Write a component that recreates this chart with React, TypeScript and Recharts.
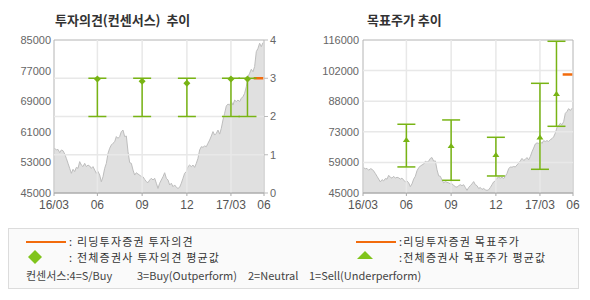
import React from "react"
import {
  Area,
  ComposedChart,
  ErrorBar,
  ReferenceArea,
  ReferenceLine,
  Scatter,
  XAxis,
  YAxis,
} from "recharts"

const PRICE = [
  56700, 56250, 56400, 55550, 56250, 56050, 55200, 54050, 52750, 51450,
  50150, 51200, 50600, 51700, 51450, 53200, 52300, 51900, 52750, 51900,
  52300, 52050, 51450, 51900, 51000, 50150, 50600, 49700, 47950, 49250,
  51450, 52750, 55350, 56700, 57550, 58000, 58400, 59750, 59300, 59750,
  61050, 61450, 59750, 59900, 55800, 52950, 52750, 51000, 49700, 50300,
  49950, 49700, 49250, 49250, 48550, 47950, 47700, 48400, 48850, 48400,
  48850, 47550, 46200, 47550, 48400, 49250, 50300, 48850, 48400, 47100,
  47550, 46650, 47100, 46500, 46200, 46500, 47550, 48850, 50150, 50600,
  51900, 52300, 51900, 52300, 51700, 52750, 54050, 56250, 57100, 56950,
  57300, 57100, 58000, 58850, 59900, 61050, 60150, 60600, 61450, 60400,
  61900, 64100, 65850, 67750, 68250, 68000, 68900, 68000, 69300, 68900,
  69300, 68900, 69750, 70200, 71050, 72800, 75400, 76300, 77350, 76700,
  78050, 81950, 82800, 84150, 83250, 84300,
]
const PRICE_FIRST_DAY = 1
const PRICE_STEP_DAYS = 2.42 // trading days between samples

const X_TICKS = [0, 63, 128, 193, 257, 305]
const X_LABELS = ["16/03", "06", "09", "12", "17/03", "06"]

// consensus snapshots (trading-day index)
const REPORT_DAYS = [63, 128, 193, 257, 281]
const OPINION_AVG = [2.98, 2.92, 2.87, 2.98, 2.98]
const OPINION_LOW = [2, 2, 2, 2, 2]
const OPINION_HIGH = [3, 3, 3, 3, 3]
const TARGET_AVG = [69600, 66800, 62600, 70700, 90900]
const TARGET_LOW = [57100, 50900, 52900, 56000, 75950]
const TARGET_HIGH = [76900, 78900, 70850, 95900, 115400]

// 리딩투자증권
const LEADING_FROM = 290
const LEADING_TO = 304
const LEADING_OPINION = 3
const LEADING_TARGET = 100000

const PRICE_TICKS = [45000, 53000, 61000, 69000, 77000, 85000]
const OPINION_TICKS = [0, 1, 2, 3, 4]
const TARGET_TICKS = [45000, 59200, 73400, 87600, 101800, 116000]

const GREEN = "#78b414"
const ORANGE = "#f26b0c"
const FRAME = "#b4b4b4"
const GRID = "#e8e8e8"
const AXIS_FONT = "'Liberation Sans', Arial, sans-serif"
const KR_FONT = "'Noto Sans CJK KR', sans-serif"

const priceData = PRICE.map((price, i) => ({
  day: PRICE_FIRST_DAY + i * PRICE_STEP_DAYS,
  price,
}))

const opinionData = REPORT_DAYS.map((day, i) => ({
  day,
  avg: OPINION_AVG[i],
  err: [OPINION_AVG[i] - OPINION_LOW[i], OPINION_HIGH[i] - OPINION_AVG[i]],
}))

const targetData = REPORT_DAYS.map((day, i) => ({
  day,
  avg: TARGET_AVG[i],
  err: [TARGET_AVG[i] - TARGET_LOW[i], TARGET_HIGH[i] - TARGET_AVG[i]],
}))

const tick = { fontSize: 11, fill: "#666", fontFamily: AXIS_FONT }

const Diamond = (p: any) => (
  <path
    d={`M${p.cx},${p.cy - 3.5}L${p.cx + 3.5},${p.cy}L${p.cx},${p.cy + 3.5}L${p.cx - 3.5},${p.cy}Z`}
    fill={GREEN}
  />
)

const Triangle = (p: any) => (
  <path
    d={`M${p.cx},${p.cy - 3}L${p.cx + 3.5},${p.cy + 2}L${p.cx - 3.5},${p.cy + 2}Z`}
    fill={GREEN}
  />
)

const xAxis = (
  <XAxis
    dataKey="day"
    type="number"
    domain={[0, 305]}
    ticks={X_TICKS}
    interval={0}
    allowDataOverflow
    tickFormatter={(_v: number, i: number) => X_LABELS[i]}
    tick={{ ...tick, fill: "#555", fontSize: 12 }}
    tickSize={3}
    tickMargin={4}
    height={22}
    stroke="#aaa"
  />
)

function OpinionChart() {
  return (
    <ComposedChart
      width={300}
      height={215}
      data={priceData}
      margin={{ top: 40, right: 0, bottom: 0, left: 0 }}
    >
      {xAxis}
      <YAxis
        yAxisId="price"
        orientation="left"
        width={54}
        domain={[45000, 85000]}
        ticks={PRICE_TICKS}
        interval={0}
        tick={tick}
        tickLine={false}
        tickSize={0}
        tickMargin={3}
        axisLine={false}
      />
      <YAxis
        yAxisId="op"
        orientation="right"
        width={36}
        domain={[0, 4]}
        ticks={OPINION_TICKS}
        interval={0}
        tick={tick}
        tickSize={4}
        tickMargin={2}
        stroke="#bbb"
        axisLine={false}
      />
      <Area
        yAxisId="price"
        dataKey="price"
        type="linear"
        stroke="#bdbdbd"
        strokeWidth={1}
        fill="#e0e0e0"
        fillOpacity={1}
        dot={false}
        isAnimationActive={false}
      />
      {OPINION_TICKS.slice(1, -1).map((v) => (
        <ReferenceLine key={`h${v}`} yAxisId="op" y={v} stroke={GRID} strokeWidth={1.5} />
      ))}
      {X_TICKS.slice(1, -1).map((d) => (
        <ReferenceLine key={`v${d}`} yAxisId="op" x={d} stroke={GRID} strokeWidth={1.5} />
      ))}
      <ReferenceArea
        yAxisId="op"
        x1={0}
        x2={305}
        y1={0}
        y2={4}
        fill="none"
        stroke={FRAME}
        ifOverflow="visible"
      />
      <ReferenceLine
        yAxisId="op"
        segment={[
          { x: LEADING_FROM, y: LEADING_OPINION },
          { x: LEADING_TO, y: LEADING_OPINION },
        ]}
        stroke={ORANGE}
        strokeWidth={2.5}
      />
      <Scatter
        yAxisId="op"
        data={opinionData}
        dataKey="avg"
        shape={Diamond}
        isAnimationActive={false}
      >
        <ErrorBar dataKey="err" direction="y" width={9} stroke={GREEN} strokeWidth={1.5} />
      </Scatter>
    </ComposedChart>
  )
}

function TargetChart() {
  return (
    <ComposedChart
      width={290}
      height={215}
      data={priceData}
      margin={{ top: 40, right: 17, bottom: 0, left: 0 }}
    >
      {xAxis}
      <YAxis
        yAxisId="price"
        orientation="left"
        width={63}
        domain={[45000, 116000]}
        ticks={TARGET_TICKS}
        interval={0}
        allowDataOverflow
        tickFormatter={(v: number) => String(Math.round(v / 1000) * 1000)}
        tick={tick}
        tickLine={false}
        tickSize={0}
        tickMargin={4}
        axisLine={false}
      />
      <Area
        yAxisId="price"
        dataKey="price"
        type="linear"
        stroke="#bdbdbd"
        strokeWidth={1}
        fill="#e0e0e0"
        fillOpacity={1}
        dot={false}
        isAnimationActive={false}
      />
      {TARGET_TICKS.slice(1, -1).map((v) => (
        <ReferenceLine key={`h${v}`} yAxisId="price" y={v} stroke={GRID} strokeWidth={1.5} />
      ))}
      {X_TICKS.slice(1, -1).map((d) => (
        <ReferenceLine key={`v${d}`} yAxisId="price" x={d} stroke={GRID} strokeWidth={1.5} />
      ))}
      <ReferenceArea
        yAxisId="price"
        x1={0}
        x2={305}
        y1={45000}
        y2={116000}
        fill="none"
        stroke={FRAME}
        ifOverflow="visible"
      />
      <ReferenceLine
        yAxisId="price"
        segment={[
          { x: LEADING_FROM, y: LEADING_TARGET },
          { x: LEADING_TO, y: LEADING_TARGET },
        ]}
        stroke={ORANGE}
        strokeWidth={2.5}
      />
      <Scatter
        yAxisId="price"
        data={targetData}
        dataKey="avg"
        shape={Triangle}
        isAnimationActive={false}
      >
        <ErrorBar dataKey="err" direction="y" width={9} stroke={GREEN} strokeWidth={1.5} />
      </Scatter>
    </ComposedChart>
  )
}

const abs = (left: number, top: number, extra: React.CSSProperties = {}): React.CSSProperties => ({
  position: "absolute",
  left,
  top,
  whiteSpace: "pre",
  lineHeight: 1,
  ...extra,
})

const title: React.CSSProperties = {
  fontFamily: KR_FONT,
  fontWeight: 700,
  fontSize: 13,
  color: "#333",
}

const legendText: React.CSSProperties = {
  fontFamily: KR_FONT,
  fontSize: 11,
  letterSpacing: 1.2,
  color: "#333",
}

const noteText: React.CSSProperties = {
  fontFamily: KR_FONT,
  fontSize: 11,
  color: "#444",
}

export default function App() {
  return (
    <div
      style={{
        position: "absolute",
        left: 0,
        top: 0,
        width: 590,
        height: 300,
        background: "#fff",
        overflow: "hidden",
      }}
    >
      <div style={abs(55, 13, title)}>투자의견(컨센서스)  추이</div>
      <div style={abs(367, 13, title)}>목표주가 추이</div>

      <div style={abs(0, 0)}>
        <OpinionChart />
      </div>
      <div style={abs(300, 0)}>
        <TargetChart />
      </div>

      <div
        style={abs(8, 228, {
          width: 571,
          height: 61,
          boxSizing: "border-box",
          border: "1px solid #dcdcdc",
          background: "#fafafa",
        })}
      />
      <div style={abs(26, 241, { width: 40, height: 2, background: ORANGE })} />
      <div style={abs(69, 235.5, legendText)}>: 리딩투자증권 투자의견</div>
      <div style={abs(356, 241, { width: 40, height: 2, background: ORANGE })} />
      <div style={abs(399, 235.5, legendText)}>:리딩투자증권 목표주가</div>

      <svg style={abs(28, 250)} width={14} height={14}>
        <path d="M7,0L14,7L7,14L0,7Z" fill="#80c41c" />
      </svg>
      <div style={abs(69, 252, legendText)}>: 전체증권사 투자의견 평균값</div>
      <svg style={abs(357, 250)} width={16} height={10}>
        <path d="M8,1L16,9L0,9Z" fill="#80c41c" />
      </svg>
      <div style={abs(399, 252, legendText)}>:전체증권사 목표주가 평균값</div>

      <div style={abs(26, 270, noteText)}>컨센서스:4=S/Buy</div>
      <div style={abs(137, 270, noteText)}>3=Buy(Outperform)</div>
      <div style={abs(248, 270, noteText)}>2=Neutral</div>
      <div style={abs(309, 270, noteText)}>1=Sell(Underperform)</div>
    </div>
  )
}
